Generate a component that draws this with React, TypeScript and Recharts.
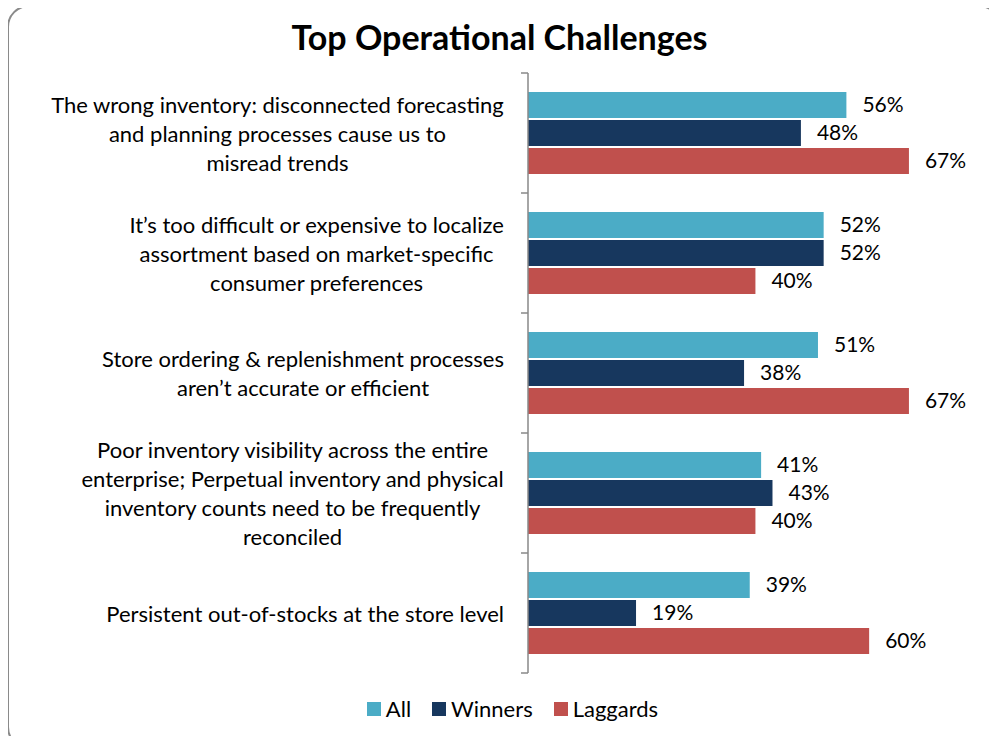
import React from "react";
import { BarChart, Bar, XAxis, YAxis, Legend, LabelList } from "recharts";

const categoryLines: string[][] = [
  [
    "The wrong inventory: disconnected forecasting",
    "and planning processes cause us to",
    "misread trends",
  ],
  [
    "It’s too difficult or expensive to localize",
    "assortment based on market-specific",
    "consumer preferences",
  ],
  ["Store ordering & replenishment processes", "aren’t accurate or efficient"],
  [
    "Poor inventory visibility across the entire",
    "enterprise; Perpetual inventory and physical",
    "inventory counts need to be frequently",
    "reconciled",
  ],
  ["Persistent out-of-stocks at the store level"],
];

const categories = categoryLines.map((lines) => lines.join(" "));

const seriesNames = ["All", "Winners", "Laggards"];
const allValues = [56, 52, 51, 41, 39];
const winnersValues = [48, 52, 38, 43, 19];
const laggardsValues = [67, 40, 67, 40, 60];

const FONT = "Lato, 'Open Sans', sans-serif";
const LABEL_SIZE = 22;
const VALUE_SIZE = 21;
const LINE_HEIGHT = 29;

const COLORS = {
  all: "#4BACC6",
  winners: "#17375E",
  laggards: "#C0504D",
};

const data = categories.map((name, i) => ({
  name,
  all: allValues[i],
  winners: winnersValues[i],
  laggards: laggardsValues[i],
}));

let measureCtx: CanvasRenderingContext2D | null = null;
function textWidth(text: string, size: number): number {
  if (!measureCtx) {
    measureCtx = document.createElement("canvas").getContext("2d");
  }
  if (!measureCtx) return text.length * size * 0.48;
  measureCtx.font = `${size}px Lato`;
  return measureCtx.measureText(text).width;
}

// category label + the boundary tick marks (Excel puts ticks between categories)
// eslint-disable-next-line @typescript-eslint/no-explicit-any
function CategoryTick({ x, y, payload, index }: any) {
  const i = categories.indexOf(payload.value);
  const lines = categoryLines[i >= 0 ? i : index] || [String(payload.value)];
  const half = payload.offset || 60;
  const blockWidth = Math.max(...lines.map((l) => textWidth(l, LABEL_SIZE)));
  const cx = x - 24 - blockWidth / 2;
  return (
    <g>
      <line x1={x - 7} x2={x} y1={y - half} y2={y - half} stroke="#888" strokeWidth={1.5} />
      {i === categories.length - 1 && (
        <line x1={x - 7} x2={x} y1={y + half} y2={y + half} stroke="#888" strokeWidth={1.5} />
      )}
      {lines.map((line, k) => (
        <text
          key={k}
          x={cx}
          y={y + (k - (lines.length - 1) / 2) * LINE_HEIGHT}
          textAnchor="middle"
          dominantBaseline="central"
          fontFamily={FONT}
          fontSize={LABEL_SIZE}
          fill="#000"
        >
          {line}
        </text>
      ))}
    </g>
  );
}

// eslint-disable-next-line @typescript-eslint/no-explicit-any
function LegendContent({ payload }: any) {
  // keep the series order, recharts sorts legend items by name
  const items = [...(payload || [])].sort(
    // eslint-disable-next-line @typescript-eslint/no-explicit-any
    (a: any, b: any) => seriesNames.indexOf(a.value) - seriesNames.indexOf(b.value)
  );
  return (
    <div
      style={{
        display: "flex",
        justifyContent: "center",
        alignItems: "center",
        gap: 21,
        fontFamily: FONT,
        fontSize: LABEL_SIZE,
        color: "#000",
      }}
    >
      {/* eslint-disable-next-line @typescript-eslint/no-explicit-any */}
      {items.map((entry: any) => (
        <div key={entry.value} style={{ display: "flex", alignItems: "center" }}>
          <div
            style={{
              width: 14,
              height: 14,
              backgroundColor: entry.color,
              marginRight: 5,
            }}
          />
          <span>{entry.value}</span>
        </div>
      ))}
    </div>
  );
}

export default function App() {
  return (
    <div
      style={{
        position: "relative",
        width: 997,
        height: 744,
        margin: -8,
        overflow: "hidden",
        background: "#fff",
        fontFamily: FONT,
      }}
    >
      <div
        style={{
          position: "absolute",
          left: 7,
          top: 5,
          width: 994,
          height: 744,
          border: "2px solid #8a8a8a",
          borderRadius: 22,
          boxSizing: "border-box",
        }}
      />
      <div
        style={{
          position: "absolute",
          top: 16,
          left: 0,
          width: 999,
          textAlign: "center",
          fontWeight: 700,
          fontSize: 34,
          color: "#000",
        }}
      >
        Top Operational Challenges
      </div>
      <div style={{ position: "absolute", left: 0, top: 0 }}>
        <BarChart
          width={997}
          height={744}
          data={data}
          layout="vertical"
          margin={{ top: 73, right: 71, bottom: 71, left: 0 }}
          barCategoryGap={19}
          barGap={2}
        >
          <XAxis type="number" domain={[0, 70]} hide />
          <YAxis
            type="category"
            dataKey="name"
            width={528}
            axisLine={{ stroke: "#888", strokeWidth: 1.5 }}
            tickLine={false}
            tickSize={0}
            tickMargin={0}
            tick={<CategoryTick />}
            interval={0}
          />
          <Legend
            layout="horizontal"
            verticalAlign="middle"
            align="center"
            content={<LegendContent />}
            wrapperStyle={{ top: 695, left: 14, width: 997 }}
          />
          <Bar dataKey="all" name="All" fill={COLORS.all} isAnimationActive={false}>
            <LabelList
              dataKey="all"
              position="right"
              offset={16}
              formatter={(v: any) => `${v}%`}
              fill="#000"
              fontSize={VALUE_SIZE}
              fontFamily={FONT}
            />
          </Bar>
          <Bar dataKey="winners" name="Winners" fill={COLORS.winners} isAnimationActive={false}>
            <LabelList
              dataKey="winners"
              position="right"
              offset={16}
              formatter={(v: any) => `${v}%`}
              fill="#000"
              fontSize={VALUE_SIZE}
              fontFamily={FONT}
            />
          </Bar>
          <Bar dataKey="laggards" name="Laggards" fill={COLORS.laggards} isAnimationActive={false}>
            <LabelList
              dataKey="laggards"
              position="right"
              offset={16}
              formatter={(v: any) => `${v}%`}
              fill="#000"
              fontSize={VALUE_SIZE}
              fontFamily={FONT}
            />
          </Bar>
        </BarChart>
      </div>
    </div>
  );
}
